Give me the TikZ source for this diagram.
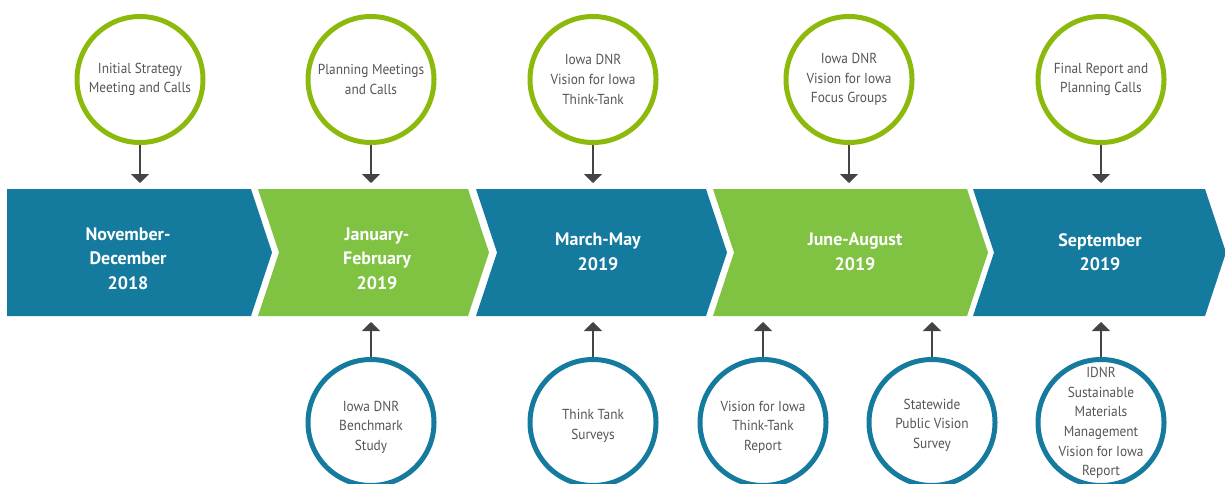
\documentclass[tikz,border=0pt]{standalone}
\usepackage{fontspec}
\setmainfont{PT Sans}
\newfontfamily\narrowfont[FakeStretch=0.92]{PT Sans}
\usepackage{tikz}
\usetikzlibrary{arrows.meta}

\definecolor{barblue}{HTML}{147A9E}
\definecolor{bargreen}{HTML}{80C242}
\definecolor{ringgreen}{HTML}{8CBA0C}
\definecolor{txtgray}{HTML}{555555}
\definecolor{arrgray}{HTML}{444444}

\begin{document}
\begin{tikzpicture}[x=1pt,y=-1pt,
    ring/.style={circle, line width=5pt, minimum size=126pt, inner sep=0pt},
    topring/.style={ring, draw=ringgreen},
    botring/.style={ring, draw=barblue},
    note/.style={align=center, text=txtgray, font=\narrowfont\fontsize{14.5}{19.6}\selectfont},
    period/.style={align=center, text=white, font=\bfseries\fontsize{18}{24.5}\selectfont},
    feed/.style={draw=arrgray, line width=1.5pt, -{Triangle[width=18pt,length=9pt]}}]

\useasboundingbox (0,0) rectangle (1225,484);

\newcommand{\tipd}{21}
\newcommand{\bartop}{189}
\newcommand{\barbot}{316}
\newcommand{\barmid}{252.5}

% Timeline bar (first piece has a flat left end)
\fill [barblue] (7,\bartop) -- (251,\bartop) -- (251+\tipd,\barmid)
    -- (251,\barbot) -- (7,\barbot) -- cycle;
\foreach \l/\r/\c in {258/468/bargreen, 476/706/barblue,
                      713/967/bargreen, 973/1205/barblue}
  \fill [\c] (\l,\bartop) -- (\r,\bartop) -- (\r+\tipd,\barmid)
    -- (\r,\barbot) -- (\l,\barbot) -- (\l+\tipd,\barmid) -- cycle;

% Periods
\node [period] (p1) at (128,258.5) {November-\\December\\2018};
\node [period] (p2) at (377,258.5) {January-\\February\\2019};
\node [period] (p3) at (598,252) {March-May\\2019};
\node [period] (p4) at (855,252) {June-August\\2019};
\node [period] (p5) at (1100,252) {September\\2019};

% Milestones above the bar
\foreach \n/\x/\t in {1/140/{Initial Strategy\\Meeting and Calls},
                      2/371/{Planning Meetings\\and Calls},
                      3/593/{Iowa DNR\\Vision for Iowa\\Think-Tank},
                      4/849/{Iowa DNR\\Vision for Iowa\\Focus Groups},
                      5/1101/{Final Report and\\Planning Calls}}
{
  \node [topring] (t\n) at (\x,79.5) {};
  \node [note] (t\n-txt) at (t\n) {\t};
  \coordinate (t\n-end) at (\x,183);
  \draw [feed] (t\n.south) -- (t\n-end);
}

% Outputs below the bar
\foreach \n/\x/\y/\t in {1/371/427/{Iowa DNR\\Benchmark\\Study},
                         2/593/426/{Think Tank\\Surveys},
                         3/763/427/{Vision for Iowa\\Think-Tank\\Report},
                         4/932/425/{Statewide\\Public Vision\\Survey},
                         5/1101/423/{IDNR\\Sustainable\\Materials\\Management\\Vision for Iowa\\Report}}
{
  \node [botring] (b\n) at (\x,422.5) {};
  \node [note] (b\n-txt) at (\x,\y) {\t};
  \coordinate (b\n-end) at (\x,322);
  \draw [feed] (b\n.north) -- (b\n-end);
}

\end{tikzpicture}
\end{document}
